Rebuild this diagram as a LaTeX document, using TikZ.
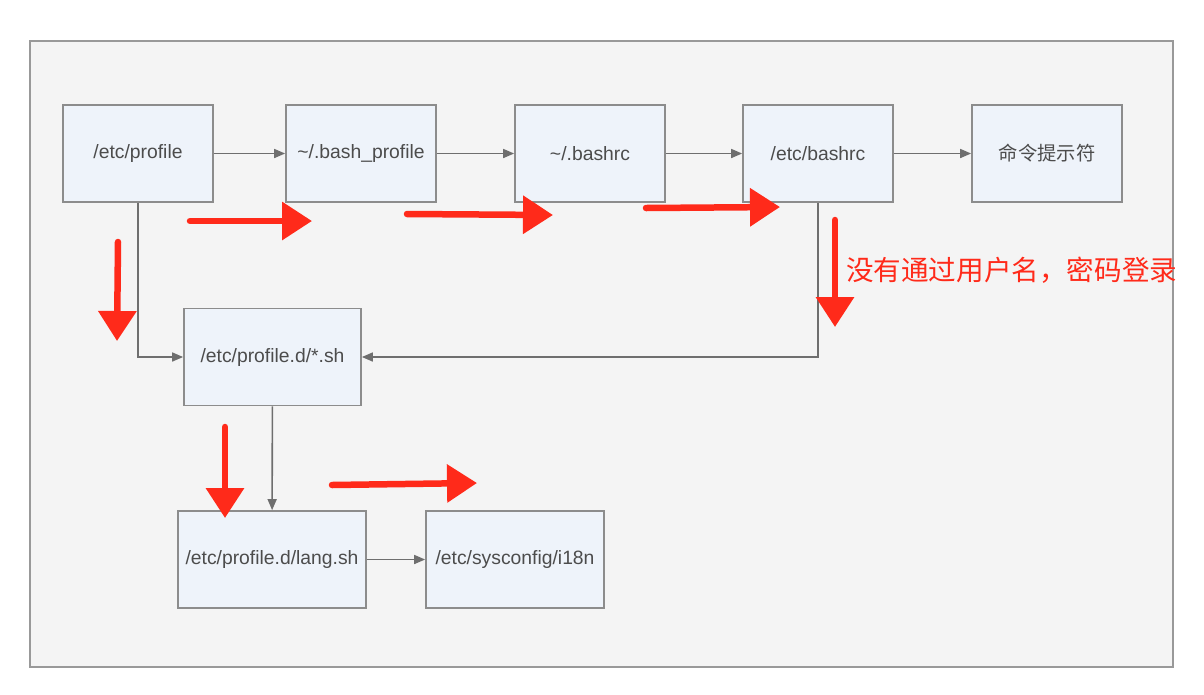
\documentclass[tikz,border=0pt]{standalone}
\usepackage{fontspec}
\setmainfont{Liberation Sans}
\newfontfamily\cjk{Noto Sans CJK SC}
\usetikzlibrary{arrows.meta}
\definecolor{boxfill}{HTML}{EEF3FA}
\definecolor{boxline}{HTML}{8C8C8C}
\definecolor{linegray}{HTML}{6E6E6E}
\definecolor{panel}{HTML}{F4F4F4}
\definecolor{markred}{HTML}{FF2A1A}
\tikzset{
  file/.style={draw=boxline, fill=boxfill, line width=1pt, minimum width=3cm, minimum height=1.94cm, text=black!70, font=\fontsize{11}{13}\selectfont},
  flow/.style={draw=linegray, line width=0.9pt, -{Triangle[length=2.2mm,width=1.8mm]}},
  hint/.style={draw=markred, line width=1.3mm, line cap=round, -{Triangle[length=6mm,width=7.4mm]}}
}
\begin{document}
\begin{tikzpicture}[x=0.02cm,y=-0.02cm]
\useasboundingbox (0,0) rectangle (1204,694);
\draw[draw=black!40, fill=panel, line width=1pt] (30,41) rectangle (1173,667);

\node[file] (profile) at (138,153.5) {/etc/profile};
\node[file] (bashprofile) at (361,153.5) {\textasciitilde/.bash\_profile};
\node[file] (bashrc) at (590,153.5) {\textasciitilde/.bashrc};
\node[file] (etcbashrc) at (818,153.5) {/etc/bashrc};
\node[file, font=\cjk\fontsize{11}{13}\selectfont] (prompt) at (1047,153.5) {命令提示符};
\node[file, minimum width=3.54cm] (profiled) at (272.5,357) {/etc/profile.d/*.sh};
\node[file, minimum width=3.76cm] (langsh) at (272,559.5) {/etc/profile.d/lang.sh};
\node[file, minimum width=3.56cm] (i18n) at (515,559.5) {/etc/sysconfig/i18n};

\draw[flow] (profile) -- (bashprofile);
\draw[flow] (bashprofile) -- (bashrc);
\draw[flow] (bashrc) -- (etcbashrc);
\draw[flow] (etcbashrc) -- (prompt);
\draw[flow] (profile.south) |- (profiled.west);
\draw[flow] (etcbashrc.south) |- (profiled.east);
\draw[flow] (profiled) -- (langsh);
\draw[flow] (langsh) -- (i18n);

% red marks
\draw[hint] (190,221) -- (312,221);
\draw[hint] (407,214) -- (553,215);
\draw[hint] (646,208) -- (780,207);
\draw[hint] (118,242) -- (117,341);
\draw[hint] (835,220) -- (835,327);
\draw[hint] (225,427) -- (225,518);
\draw[hint] (332,485) -- (477,483);
\node[text=markred, font=\cjk\fontsize{15.7}{18}\selectfont, anchor=west] (login) at (840,270) {没有通过用户名，密码登录};

\end{tikzpicture}
\end{document}
